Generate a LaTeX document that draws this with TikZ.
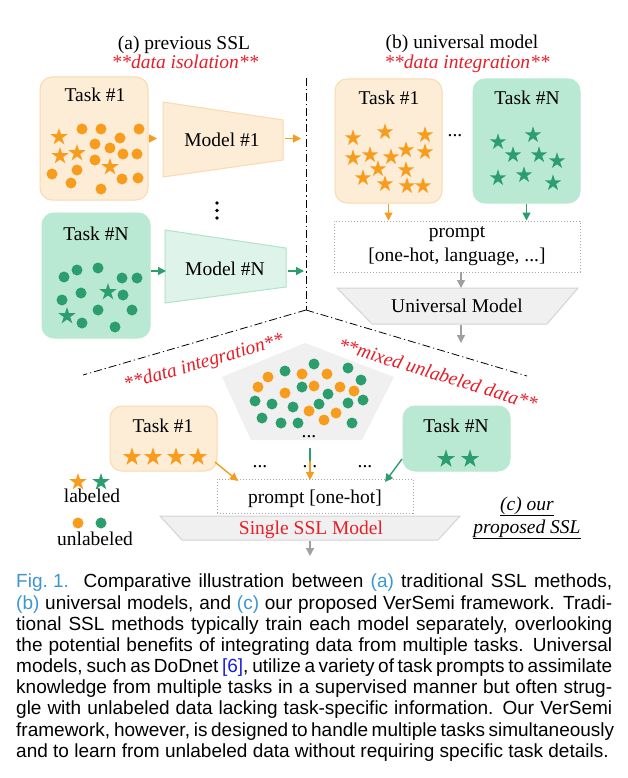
\documentclass[tikz,border=0pt]{standalone}
\usepackage{fontspec}
\setmainfont{Liberation Serif}
\newfontfamily\capfont{Liberation Sans}
\usetikzlibrary{arrows.meta,calc}
\definecolor{ostar}{RGB}{247,156,28}
\definecolor{gstar}{RGB}{44,158,110}
\definecolor{ofill}{RGB}{253,236,214}
\definecolor{oline}{RGB}{250,218,175}
\definecolor{gfill}{RGB}{185,232,211}
\definecolor{mgfill}{RGB}{222,243,234}
\definecolor{mgline}{RGB}{178,226,204}
\definecolor{grfill}{RGB}{240,240,240}
\definecolor{grline}{RGB}{212,212,212}
\definecolor{grarrow}{RGB}{160,160,160}
\definecolor{myred}{RGB}{230,30,40}
\definecolor{capblue}{RGB}{60,150,210}
\definecolor{refblue}{RGB}{30,30,220}
\begin{document}
\begin{tikzpicture}[x=1pt,y=-1pt,
  every node/.style={inner sep=0pt},
  lbl/.style={font=\fontsize{19.5}{23}\selectfont, anchor=base},
  redlbl/.style={anchor=base, text=myred, font=\fontsize{19.5}{23}\selectfont\itshape},
  obox/.style={draw=oline, fill=ofill, line width=1pt, rounded corners=12pt},
  gbox/.style={draw=gfill, fill=gfill, line width=1pt, rounded corners=12pt},
  arr/.style={-{Triangle[length=8pt,width=8pt]}, line width=1.4pt},
  sepline/.style={line width=0.8pt, dash pattern=on 8pt off 3pt on 1.2pt off 3pt},
  dotbox/.style={draw=gray!70, line width=0.9pt, dash pattern=on 1.4pt off 1.6pt, fill=white},
  pics/mystar/.style={code={\fill[yscale=-1] (90:#1) -- (126:{0.382*#1}) -- (162:#1) -- (198:{0.382*#1}) -- (234:#1) -- (270:{0.382*#1}) -- (306:#1) -- (342:{0.382*#1}) -- (18:#1) -- (54:{0.382*#1}) -- cycle;}}
]
\useasboundingbox[fill=white] (0,0) rectangle (628,778);

% separators
\coordinate (sepc) at (306,310);
\coordinate (septop) at (306,78);
\coordinate (sepl) at (83,375);
\coordinate (sepr) at (527,376);
\draw[sepline] (septop) -- (sepc);
\draw[sepline] (sepc) -- (sepl);
\draw[sepline] (sepc) -- (sepr);

% ===== (a) previous SSL =====
\node[lbl] (ta) at (184,50) {(a) previous SSL};
\node[redlbl] (ra) at (185,69) {**data isolation**};

\node[obox, minimum width=108pt, minimum height=123pt] (ta1) at (94,138.5) {};
\node[lbl] (ta1t) at (95,102) {Task \#1};
\foreach \p in {(82,129),(101,129),(139,129),(120,138),(95,144),(110,148),(123,154),(137,154),(95,160),(77,170),(52,174),(122,179),(138,178),(71,183),(101,189)}
  \fill[ostar] \p circle (5.5);
\foreach \p in {(59,137),(60,156),(77,153),(110,167)}
  \pic[color=ostar] at \p {mystar=9};

\draw[draw=oline, fill=ofill, line width=1pt] (163,102) -- (283,120) -- (283,160) -- (163,177) -- cycle;
\node[lbl] (m1t) at (222,147) {Model \#1};
\coordinate (m1in) at (157,138.5);
\coordinate (m1out) at (285,138.5);
\coordinate (m1end) at (301,138.5);
\draw[arr, ostar] (ta1.east) -- (m1in);
\draw[arr, ostar] (m1out) -- (m1end);

\foreach \yy in {203,210.5,218} \fill (217,\yy) circle (1.8);

\node[gbox, minimum width=108pt, minimum height=125pt] (tna) at (96,275.5) {};
\node[lbl] (tnat) at (96,240) {Task \#N};
\foreach \p in {(64,277),(77,270),(98,268),(122,278),(137,278),(81,293),(123,295),(62,300),(98,310),(132,310),(82,323),(115,327)}
  \fill[gstar] \p circle (5.5);
\foreach \p in {(108,292),(67,316)}
  \pic[color=gstar] at \p {mystar=9};

\draw[draw=mgline, fill=mgfill, line width=1pt] (165,230) -- (286,248) -- (286,287) -- (165,303) -- cycle;
\node[lbl] (mnt) at (225,275) {Model \#N};
\coordinate (mnin) at (166,271);
\coordinate (mnout) at (288,271);
\coordinate (mnend) at (304,271);
\draw[arr, gstar] (tna.east |- mnin) -- (mnin);
\draw[arr, gstar] (mnout) -- (mnend);

% ===== (b) universal model =====
\node[lbl] (tb) at (462,49) {(b) universal model};
\node[redlbl] (rb) at (467,69) {**data integration**};

\node[obox, minimum width=107pt, minimum height=124pt] (tb1) at (388.5,141) {};
\node[lbl] (tb1t) at (389,105) {Task \#1};
\foreach \p in {(353,138),(385,132),(425,135),(353,158),(370,155),(391,157),(406,150),(425,152),(378,169),(406,170),(363,178),(385,184),(407,186),(423,186)}
  \pic[color=ostar] at \p {mystar=8.6};

\node[gbox, minimum width=107pt, minimum height=124pt] (tbn) at (526.5,141) {};
\node[lbl] (tbnt) at (527,105) {Task \#N};
\foreach \p in {(498,142),(533,135),(513,155),(539,155),(557,161),(498,178),(524,175),(553,183)}
  \pic[color=gstar] at \p {mystar=8.6};
\node[lbl] (tbdots) at (455,137) {...};

\node[dotbox, minimum width=246pt, minimum height=51pt] (prb) at (457,246.5) {};
\node[lbl] (prbt1) at (457,237) {prompt};
\node[lbl] (prbt2) at (457,261) {[one-hot, language, ...]};
\draw[arr, ostar] (tb1.south) -- (tb1.south |- prb.north);
\draw[arr, gstar] (tbn.south) -- (tbn.south |- prb.north);

\draw[draw=grline, fill=grfill, line width=1pt] (337,288) -- (578,288) -- (547,324) -- (372,324) -- cycle;
\node[lbl] (umt) at (457,312) {Universal Model};
\coordinate (umtop) at (461,288);
\coordinate (umbot) at (461,325);
\coordinate (umout) at (461,343);
\draw[arr, grarrow] (prb.south -| umtop) -- (umtop);
\draw[arr, grarrow] (umbot) -- (umout);

% ===== (c) our proposed SSL =====
\fill[grfill] (305,343) -- (394,377) -- (362,440) -- (251,440) -- (222,377) -- cycle;
\foreach \p in {(268,377),(258,387),(302,374),(327,374),(314,386),(285,393),(340,387),(354,391),(309,411),(336,413),(324,420)}
  \fill[ostar] \p circle (5.5);
\foreach \p in {(285,371),(314,364),(348,368),(361,380),(302,387),(328,394),(255,401),(272,404),(293,407),(319,404),(348,403),(363,400),(262,418),(281,423),(298,423),(352,423)}
  \fill[gstar] \p circle (5.5);
\node[lbl] (pdots) at (309,437) {...};

\node[redlbl, anchor=center, rotate=16] (rci) at (204,363) {**data integration**};
\node[redlbl, anchor=center, rotate=-17] (rcm) at (438,374) {**mixed unlabeled data**};

\node[obox, minimum width=107pt, minimum height=65pt] (tc1) at (163.5,438.5) {};
\node[lbl] (tc1t) at (163,432) {Task \#1};
\foreach \xx in {132,153,176,198} \pic[color=ostar] at (\xx,457) {mystar=9.6};

\node[gbox, minimum width=107pt, minimum height=65pt] (tcn) at (456.5,438.5) {};
\node[lbl] (tcnt) at (456,432) {Task \#N};
\foreach \xx in {446,470} \pic[color=gstar] at (\xx,459) {mystar=9.6};

\node[lbl] (cd1) at (260,467) {...};
\node[lbl] (cd2) at (310,467) {...};
\node[lbl] (cd3) at (365,467) {...};

\node[dotbox, minimum width=196pt, minimum height=34pt] (prc) at (315,496) {};
\node[lbl] (prct) at (315,503) {prompt [one-hot]};

\coordinate (o1s) at (215,462);
\coordinate (o1e) at (238,481);
\coordinate (gns) at (402,459);
\coordinate (gne) at (385,482);
\coordinate (mxs) at (310,448);
\coordinate (mxm) at (310,466);
\coordinate (mxo) at (310,461);
\coordinate (mxe) at (310,480);
\draw[arr, ostar] (o1s) -- (o1e);
\draw[arr, gstar] (gns) -- (gne);
\draw[line width=1.4pt, gstar] (mxs) -- (mxm);
\draw[arr, ostar] (mxo) -- (mxe);

\draw[draw=grline, fill=grfill, line width=1pt] (160,516) -- (460,516) -- (438,540) -- (182,540) -- cycle;
\node[lbl, text=myred] (sslt) at (311,534) {Single SSL Model};
\coordinate (sslbot) at (310,541);
\coordinate (sslout) at (310,556);
\draw[arr, grarrow] (sslbot) -- (sslout);

% legend
\pic[color=ostar] at (78,482) {mystar=9};
\pic[color=gstar] at (101,482) {mystar=9};
\node[lbl] (lgl) at (92,502) {labeled};
\fill[ostar] (78,523) circle (5.5);
\fill[gstar] (101,523) circle (5.5);
\node[lbl] (lgu) at (95,545) {unlabeled};

\node[lbl] (ours1) at (527,510) {\underline{\itshape (c) our}};
\node[lbl] (ours2) at (527,533) {\underline{\itshape proposed SSL}};

% caption
\node[anchor=north west, align=left, font=\capfont\fontsize{19}{21.15}\selectfont] (cap) at (16,574) {%
\hbox to 596pt{\hbox{\color{capblue}Fig.\ 1.}\hskip 0.7em plus 0.1em Comparative illustration between {\color{capblue}(a)} traditional SSL methods,}\\
\hbox to 596pt{{\color{capblue}(b)} universal models, and {\color{capblue}(c)} our proposed VerSemi framework. Tradi-}\\
\hbox to 596pt{tional SSL methods typically train each model separately, overlooking}\\
\hbox to 596pt{the potential benefits of integrating data from multiple tasks. Universal}\\
\hbox to 596pt{models, such as DoDnet {\color{refblue}[6]}, utilize a variety of task prompts to assimilate}\\
\hbox to 596pt{knowledge from multiple tasks in a supervised manner but often strug-}\\
\hbox to 596pt{gle with unlabeled data lacking task-specific information. Our VerSemi}\\
\hbox to 596pt{framework, however, is designed to handle multiple tasks simultaneously}\\
\hbox{and to learn from unlabeled data without requiring specific task details.}};
\end{tikzpicture}
\end{document}
